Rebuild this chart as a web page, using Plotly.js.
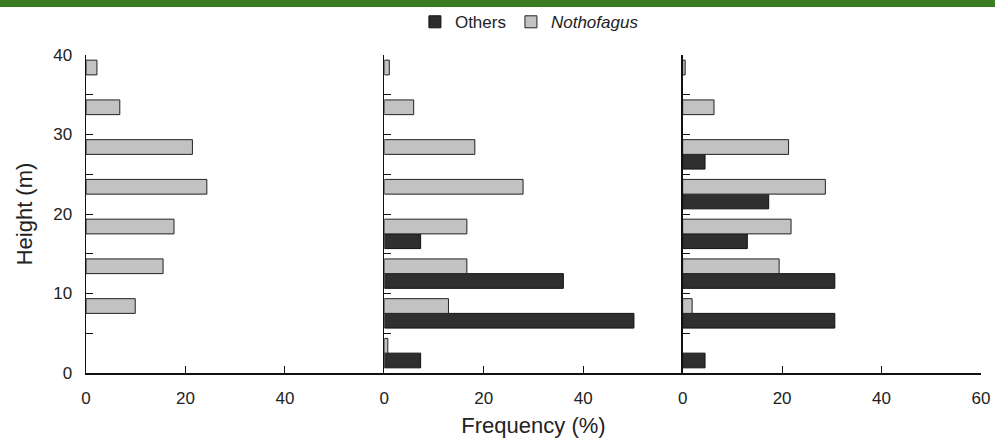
<!DOCTYPE html>
<html>
<head>
<meta charset="utf-8">
<script src="https://cdn.plot.ly/plotly-3.0.1.min.js"></script>
<style>
html,body{margin:0;padding:0;background:#fff;}
#wrap{position:relative;width:995px;height:445px;}
#band{position:absolute;left:0;top:0;width:995px;height:7px;background:#3b7b22;z-index:5;}
#chart{position:absolute;left:0;top:0;width:995px;height:445px;}
</style>
</head>
<body>
<div id="wrap"><div id="chart"></div><div id="band"></div></div>
<script>
// Height classes (bin centres, m)
const heightBins = [2.5, 7.5, 12.5, 17.5, 22.5, 27.5, 32.5, 37.5];

// Panel 1
const p1Others     = [0, 0, 0, 0, 0, 0, 0, 0];
const p1Nothofagus = [0, 9.9, 15.5, 17.7, 24.3, 21.4, 6.8, 2.2];
// Panel 2
const p2Others     = [7.3, 50.2, 36.0, 7.3, 0, 0, 0, 0];
const p2Nothofagus = [0.7, 12.9, 16.6, 16.6, 27.9, 18.2, 5.9, 1.0];
// Panel 3
const p3Others     = [4.5, 30.6, 30.6, 13.0, 17.3, 4.5, 0, 0];
const p3Nothofagus = [0, 1.9, 19.4, 21.8, 28.7, 21.3, 6.3, 0.5];

const yTickVals  = [0, 5, 10, 15, 20, 25, 30, 35, 40];
const yTickText  = ['0', '', '10', '', '20', '', '30', '', '40'];
const xTickVals12 = [0, 20, 40];
const xTickVals3  = [0, 20, 40, 60];

const othersColor = '#2f2f2f';
const nothoColor  = '#c2c2c2';

const panels = [
  {others: p1Others, notho: p1Nothofagus},
  {others: p2Others, notho: p2Nothofagus},
  {others: p3Others, notho: p3Nothofagus}
];

// zero frequencies are simply not drawn
const nz = arr => arr.map(v => (v === 0 ? null : v));

const traces = [];
panels.forEach((p, i) => {
  const xa = i === 0 ? 'x' : 'x' + (i + 1);
  const ya = i === 0 ? 'y' : 'y' + (i + 1);
  traces.push({
    type: 'bar', orientation: 'h', y: heightBins, x: nz(p.others),
    name: 'Others', legendgroup: 'o', showlegend: i === 0,
    xaxis: xa, yaxis: ya,
    marker: {color: othersColor, line: {color: '#111', width: 1}},
    hoverinfo: 'x+y'
  });
  traces.push({
    type: 'bar', orientation: 'h', y: heightBins, x: nz(p.notho),
    name: '<i>Nothofagus</i>', legendgroup: 'n', showlegend: i === 0,
    xaxis: xa, yaxis: ya,
    marker: {color: nothoColor, line: {color: '#222', width: 1}},
    hoverinfo: 'x+y'
  });
});

const font = {family: 'Liberation Sans, Arial, sans-serif', size: 17, color: '#222'};

function xAxis(dom, vals, anchor) {
  return {
    domain: dom, range: [0, 60], anchor: anchor, automargin: false,
    tickvals: vals, ticks: 'inside', ticklen: 7, tickcolor: '#111',
    showline: true, linecolor: '#111', linewidth: 1.5,
    showgrid: false, zeroline: false, tickfont: {size: 17, color: '#222'},
    ticklabelstandoff: 9
  };
}
function yAxis(anchor, labels) {
  return {
    range: [0, 40], anchor: anchor, automargin: false,
    tickvals: yTickVals, ticktext: labels ? yTickText : yTickVals.map(() => ''),
    ticks: 'inside', ticklen: 7, tickcolor: '#111',
    showline: true, linecolor: '#111', linewidth: 1.5,
    showgrid: false, zeroline: false, tickfont: {size: 17, color: '#222'},
    ticklabelstandoff: 9
  };
}

const layout = {
  width: 995, height: 445,
  margin: {l: 86, r: 14, t: 55, b: 72},
  paper_bgcolor: '#fff', plot_bgcolor: 'rgba(0,0,0,0)',
  font: font,
  barmode: 'group', bargap: 0.26, bargroupgap: 0,
  showlegend: true,
  legend: {
    orientation: 'h', xref: 'container', yref: 'container',
    x: 0.417, xanchor: 'left', y: 0.95, yanchor: 'middle',
    font: {size: 17, color: '#222'}, itemwidth: 30, traceorder: 'normal',
    bgcolor: 'rgba(0,0,0,0)'
  },
  xaxis:  xAxis([0, 1/3], xTickVals12, 'y'),
  xaxis2: Object.assign(xAxis([1/3, 2/3], xTickVals12, 'y2'), {title: {text: 'Frequency (%)', font: {size: 22, color: '#222'}, standoff: 10}}),
  xaxis3: xAxis([2/3, 1], xTickVals3, 'y3'),
  yaxis:  Object.assign(yAxis('x', true), {title: {text: 'Height (m)', font: {size: 22, color: '#222'}, standoff: 14}}),
  yaxis2: yAxis('x2', false),
  yaxis3: yAxis('x3', false)
};

Plotly.newPlot('chart', traces, layout, {displayModeBar: false, staticPlot: true});
</script>
</body>
</html>
